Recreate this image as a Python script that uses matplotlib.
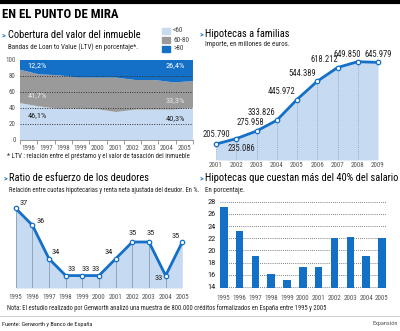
import numpy as np
import matplotlib
matplotlib.use("Agg")
import matplotlib.pyplot as plt

plt.rcParams['font.family'] = ['Roboto Condensed', 'DejaVu Sans']

# --- data ---
ltv_years = ['1996', '1997', '1998', '1999', '2000', '2001', '2002', '2003', '2004', '2005']
ltv_lt60 = [46.1, 42.0, 39.0, 39.0, 38.5, 35.0, 38.0, 38.0, 38.0, 40.3]
ltv_60_80 = [41.7, 40.0, 42.0, 39.0, 39.5, 43.0, 37.0, 37.0, 34.0, 33.3]
ltv_gt80 = [12.2, 18.0, 19.0, 22.0, 22.0, 22.0, 25.0, 25.0, 28.0, 26.4]

fam_years = ['2001', '2002', '2003', '2004', '2005', '2006', '2007', '2008', '2009']
fam_values = [205.790, 235.086, 275.958, 333.826, 445.972, 544.389, 618.212, 649.850, 645.979]
fam_labels = ['205.790', '235.086', '275.958', '333.826', '445.972', '544.389',
              '618.212', '649.850', '645.979']

ratio_years = ['1995', '1996', '1997', '1998', '1999', '2000', '2001', '2002', '2003', '2004', '2005']
ratio_values = [37, 36, 34, 33, 33, 33, 34, 35, 35, 33, 35]

sal_years = ratio_years
sal_values = [27.1, 23.2, 19.1, 16.1, 15.2, 17.3, 17.2, 22.1, 22.2, 19.1, 22.1]

# colours
BLUE = '#1370c6'
LIGHT = '#c6daf1'
GREY = '#9a9a9a'
TXT = '#222222'
TICK = '#555555'

W, H = 400, 331
fig = plt.figure(figsize=(W / 100, H / 100), dpi=100)


def axes_px(x0, y0, x1, y1):
    return fig.add_axes([x0 / W, 1 - y1 / H, (x1 - x0) / W, (y1 - y0) / H])


def text_px(x, y, s, **kw):
    fig.text(x / W, 1 - y / H, s, **kw)


def panel_title(x, y, title, sub, dy=13, subsize=5):
    text_px(x - 6, y, '>', color=BLUE, fontsize=6, va='center', weight='bold')
    text_px(x, y, title, color='black', fontsize=7.5, va='center')
    text_px(x, y + dy, sub, color=TXT, fontsize=subsize, va='center')


# header
fig.add_artist(plt.Line2D([0, 1], [1 - 1.5 / H, 1 - 1.5 / H], color='black', lw=3))
text_px(2, 15, 'EN EL PUNTO DE MIRA', fontsize=9.2, weight='bold', va='center')

# ---------- panel 1: LTV stacked area ----------
panel_title(8, 35, 'Cobertura del valor del inmueble',
            'Bandas de Loan to Value (LTV) en porcentaje*.', dy=12.5)
ax1 = axes_px(20, 60, 193, 140)
n = len(ltv_years)
xs = np.linspace(-0.5, n - 0.5, n)
ax1.stackplot(xs, ltv_lt60, ltv_60_80, ltv_gt80, colors=[LIGHT, GREY, BLUE], lw=0)
ax1.set_xlim(-0.5, n - 0.5)
ax1.set_ylim(0, 100)
for v in [20, 40, 60, 80]:
    ax1.axhline(v, color='#333333', lw=0.7, ls=(0, (1, 1.5)), zorder=3)
ax1.set_yticks([0, 20, 40, 60, 80, 100])
ax1.set_xticks(range(n))
ax1.set_xticklabels(ltv_years)
ax1.set_xticks(np.arange(-0.5, n, 1), minor=True)
ax1.tick_params(axis='x', which='major', length=0, labelsize=5, colors=TICK, pad=3.5)
ax1.tick_params(axis='x', which='minor', length=3, color='#888888')
ax1.tick_params(axis='y', length=0, labelsize=5, colors=TICK, pad=3)
for s in ['top', 'left', 'right']:
    ax1.spines[s].set_visible(False)
ax1.spines['bottom'].set_color('#888888')
ax1.spines['bottom'].set_linewidth(0.6)
ax1.text(0.5, 94, '12,2%', color='white', fontsize=6, ha='center', va='center')
ax1.text(0.5, 56, '41,7%', color='#e8e8e8', fontsize=6, ha='center', va='center')
ax1.text(0.5, 31, '46,1%', color=TXT, fontsize=6, ha='center', va='center')
ax1.text(8.5, 94, '26,4%', color='white', fontsize=6, ha='center', va='center')
ax1.text(8.5, 50, '33,3%', color='#e8e8e8', fontsize=6, ha='center', va='center')
ax1.text(8.5, 27.5, '40,3%', color=TXT, fontsize=6, ha='center', va='center')
text_px(7, 157, '* LTV : relación entre el préstamo y el valor de tasación del inmueble',
        fontsize=4.9, color=TXT, va='center')

# legend
for i, (lab, col) in enumerate(zip(['<60', '60-80', '>80'], [LIGHT, GREY, BLUE])):
    yy = 31 + i * 9
    fig.add_artist(plt.Rectangle((162 / W, 1 - (yy + 3.3) / H), 8 / W, 6.6 / H, color=col,
                                 transform=fig.transFigure))
    text_px(173, yy, lab, fontsize=5.3, color='#444444', va='center')

# ---------- panel 2: hipotecas a familias ----------
panel_title(205, 34, 'Hipotecas a familias', 'Importe, en millones de euros.', dy=10)
ax2 = axes_px(216, 52, 378, 160)
m = len(fam_years)
xf = np.arange(m)
ax2.fill_between(xf, fam_values, 120, color=LIGHT, lw=0)
ax2.vlines(xf, 120, fam_values, color='#8a9bb0', lw=0.6, ls=(0, (1, 1.5)))
ax2.plot(xf, fam_values, color=BLUE, lw=2, marker='o', ms=3.2, mfc='white',
         mec=BLUE, mew=0.9, clip_on=False)
offsets = [(0, 10), (5, -10), (-6, 9), (-15, 8), (-15, 8), (-15, 8), (-13, 8), (-10, 7), (0, 8)]
for x, v, lab, off in zip(xf, fam_values, fam_labels, offsets):
    ax2.annotate(lab, (x, v), xytext=off, textcoords='offset pixels', ha='center',
                 va='center', fontsize=6.2, color=TXT)
ax2.set_xlim(0, m - 1)
ax2.set_ylim(120, 702)
ax2.set_xticks(xf)
ax2.set_xticklabels(fam_years)
ax2.set_yticks([])
ax2.tick_params(axis='x', length=0, labelsize=5, colors=TICK, pad=1.5)
for s in ax2.spines.values():
    s.set_visible(False)

# ---------- panel 3: ratio de esfuerzo ----------
panel_title(9, 178, 'Ratio de esfuerzo de los deudores',
            'Relación entre cuotas hipotecarias y renta neta ajustada del deudor. En %.',
            subsize=4.7)
ax3 = axes_px(15.7, 198, 182.3, 288)
k = len(ratio_years)
xr = np.arange(k)
ax3.fill_between(xr, ratio_values, 32.26, color=LIGHT, lw=0)
ax3.vlines(xr, 32.26, ratio_values, color='#8a9bb0', lw=0.6)
ax3.plot(xr, ratio_values, color=BLUE, lw=2, marker='o', ms=3.2, mfc='white',
         mec=BLUE, mew=0.9, clip_on=False)
roff = [(8, 5), (8, 4), (7, 7), (6, 7), (3, 7), (-3, 7), (-7, 7), (0, 9), (2, 9), (-7, -2), (-7, 6)]
for x, v, off in zip(xr, ratio_values, roff):
    ax3.annotate(str(v), (x, v), xytext=off, textcoords='offset pixels', ha='center',
                 va='center', fontsize=6, color=TXT)
ax3.set_xlim(0, k - 1)
ax3.set_ylim(32.26, 37.62)
ax3.set_xticks(xr)
ax3.set_xticklabels(ratio_years)
ax3.set_yticks([])
ax3.tick_params(axis='x', length=0, labelsize=5, colors=TICK, pad=4)
for s in ax3.spines.values():
    s.set_visible(False)

# ---------- panel 4: bars ----------
panel_title(205, 178, 'Hipotecas que cuestan más del 40% del salario', 'En porcentaje.')
ax4 = axes_px(220, 200, 387, 288)
xb = np.arange(len(sal_years))
ax4.bar(xb, sal_values, width=0.48, color=BLUE, zorder=3, bottom=0)
ax4.set_xlim(-0.24, 10.32)
ax4.set_ylim(13.8, 28.3)
ax4.set_yticks(range(14, 29, 2))
for v in range(14, 29, 2):
    ax4.axhline(v, color='#555555', lw=0.6, ls=(0, (1, 1.5)), zorder=2)
ax4.set_xticks(xb)
ax4.set_xticklabels(sal_years)
ax4.tick_params(axis='x', length=0, labelsize=5, colors=TICK, pad=5)
ax4.tick_params(axis='y', length=0, labelsize=6, colors=TXT, pad=3)
for s in ax4.spines.values():
    s.set_visible(False)

# footer
text_px(7, 308, 'Nota: El estudio realizado por Genworth analizó una muestra de 800.000 créditos '
        'formalizados en España entre 1995 y 2005', fontsize=4.7, color=TXT, va='center')
fig.add_artist(plt.Line2D([0, 1], [1 - 316 / H, 1 - 316 / H], color='#bbbbbb', lw=0.5))
text_px(2, 324, 'Fuente: Genworth y Banco de España', fontsize=4.5, color=TXT, va='center')
text_px(398, 324, 'Expansión', fontsize=4.5, color=TICK, va='center', ha='right')

fig.savefig('out.png', dpi=100)
